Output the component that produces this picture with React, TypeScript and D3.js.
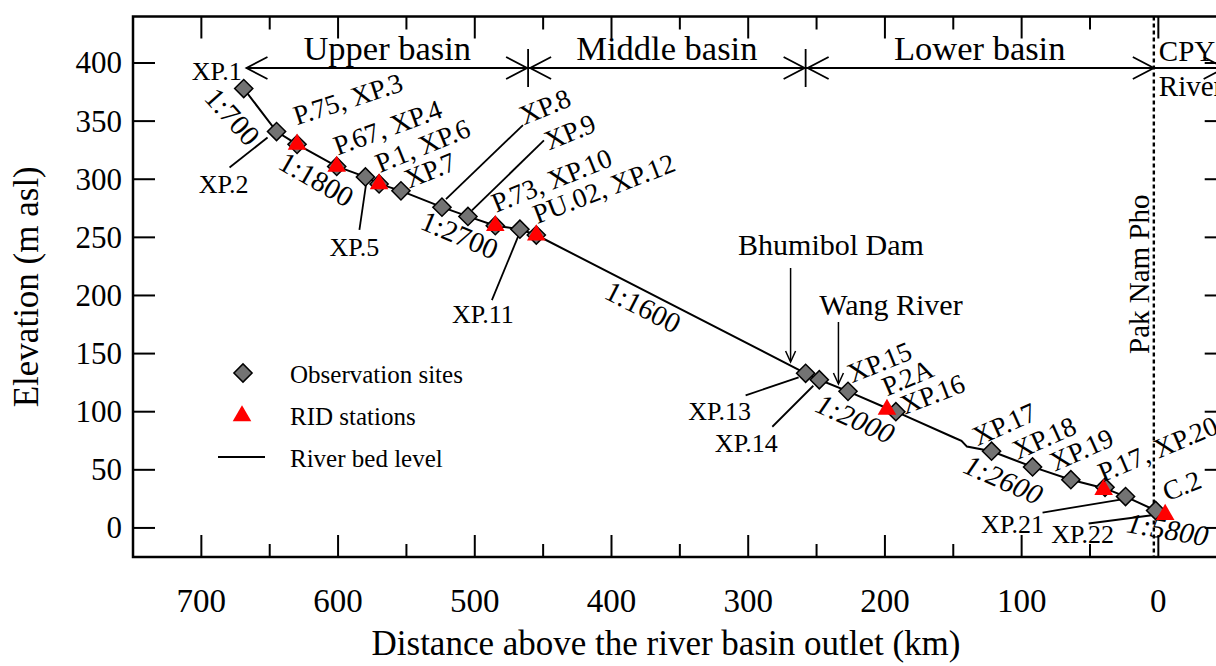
import React from 'react';
import * as d3 from 'd3';

// ---------- data ----------
const xMajorTicks = [700, 600, 500, 400, 300, 200, 100, 0];
const xMinorTicks = [650, 550, 450, 350, 250, 150, 50];
const yTicks = [0, 50, 100, 150, 200, 250, 300, 350, 400];

const obsNames = ['XP.1', 'XP.2', 'XP.3', 'XP.4', 'XP.5', 'XP.6', 'XP.7', 'XP.8', 'XP.9', 'XP.10', 'XP.11', 'XP.12',
  'XP.13', 'XP.14', 'XP.15', 'XP.16', 'XP.17', 'XP.18', 'XP.19', 'XP.20', 'XP.21', 'XP.22'];
const obsDist = [669, 645, 630, 601, 580, 570, 554, 524, 505, 485, 467, 455, 258, 248, 227, 192, 122, 92, 64, 39, 24, 2];
const obsElev = [378, 341, 330, 311, 302, 296, 290, 276, 268, 260, 257, 252, 133, 127.5, 117.5, 100, 66, 52.5, 41.5, 35, 27, 15];

const ridNames = ['P.75', 'P.67', 'P.1', 'P.73', 'PU.02', 'P.2A', 'P.17', 'C.2'];
const ridDist = [630, 601, 570, 485, 455, 198.5, 40, -5];
const ridElev = [330, 311, 296, 260, 252, 102, 33, 11.5];

const bedDist = [669, 645, 630, 601, 580, 570, 554, 524, 505, 485, 467, 455, 258, 248, 227, 198.5, 192, 150, 144, 140, 122, 92, 64, 39, 24, 2, -5];
const bedElev = [378, 341, 330, 311, 302, 296, 290, 276, 268, 260, 257, 252, 133, 127.5, 117.5, 103, 100, 78, 75, 70, 66, 52.5, 41.5, 34, 27, 15, 11];

const basinNames = ['Upper basin', 'Middle basin', 'Lower basin'];
const basinFrom = [667, 461, 258];
const basinTo = [461, 258, 3.3];
const outletDist = 3.3;

const slopeTexts = ['1:700', '1:1800', '1:2700', '1:1600', '1:2000', '1:2600', '1:5800'];
const slopeDist = [679, 617, 512, 378, 222.6, 114.3, -6.4];
const slopeElev = [352, 297.6, 249.5, 187.6, 91.4, 39, -4];

// ---------- layout ----------
const W = 1216, H = 666;
const x = d3.scaleLinear().domain([750, -50]).range([133, 1226.7]);
const y = d3.scaleLinear().domain([-25, 440]).range([557, 16.5]);
const FONT = "'Liberation Serif', 'Times New Roman', serif";

const slopeRot = [48, 30, 23, 27, 24, 24, 10];
const slopeItalic = [false, false, false, false, true, true, true];

type Lab = { t: string; px: number; py: number; dx: number; dy: number; rot: number; anchor: string; leader?: number[] };

function obsP(i: number) { return [x(obsDist[i]), y(obsElev[i])]; }

export default function App() {
  const line = d3.line<number>().x((_, i) => x(bedDist[i])).y((_, i) => y(bedElev[i]));
  const bedPath = line(bedDist as any) || '';
  const sq = d3.symbol().type(d3.symbolSquare).size(165)() || '';
  const tri = d3.symbol().type(d3.symbolTriangle).size(150)() || '';

  const stationLabel = (i: number, text: string, dx: number, dy: number, rot: number, anchor = 'start', leader?: number[]): Lab => {
    const [px, py] = obsP(i);
    return { t: text, px, py, dx, dy, rot, anchor, leader };
  };

  const labels: Lab[] = [
    stationLabel(0, 'XP.1', -27, -9, 0, 'middle'),
    stationLabel(1, 'XP.2', -53, 61, 0, 'middle', [-9, 6, -47, 36]),
    stationLabel(2, 'P.75, XP.3', 0, -19, -18),
    stationLabel(3, 'P.67, XP.4', 1, -11, -20),
    stationLabel(4, 'XP.5', -11, 79, 0, 'middle', [1, 5, -6, 53]),
    stationLabel(5, 'P.1, XP.6', 1, -11, -22),
    stationLabel(6, 'XP.7', 8, -2, -22),
    stationLabel(7, 'XP.8', 82, -82, -22, 'start', [4, -8, 81, -82]),
    stationLabel(8, 'XP.9', 81, -66, -22, 'start', [4, -6, 76, -76]),
    stationLabel(9, 'P.73, XP.10', 1, -13, -22),
    stationLabel(10, 'XP.11', -37, 94, 0, 'middle', [0, 3, -28, 71]),
    stationLabel(11, 'PU.02, XP.12', 1, -11, -21),
    stationLabel(12, 'XP.13', -86, 47, 0, 'middle', [-7, 4, -60, 22]),
    stationLabel(13, 'XP.14', -73, 72, 0, 'middle', [-6, 6, -47, 47]),
    stationLabel(14, 'XP.15', 4, -8, -22),
    stationLabel(15, 'XP.16', 9, 3, -21),
    stationLabel(16, 'XP.17', -14, -5, -24),
    stationLabel(17, 'XP.18', -15, -7, -24),
    stationLabel(18, 'XP.19', -16, -8, -24),
    stationLabel(19, 'P.17, XP.20', -2, -5, -23),
    stationLabel(20, 'XP.21', -113, 36, 0, 'middle', [-5, 3, -83, 16]),
    stationLabel(21, 'XP.22', -73, 32, 0, 'middle', [2, 4, -67, 13]),
  ];
  const p2a = { px: x(ridDist[5]), py: y(ridElev[5]) };
  const c2 = { px: x(ridDist[7]), py: y(ridElev[7]) };

  const frameL = x(750), frameR = x(-50), frameT = y(440), frameB = y(-25);
  const arrowY = 68;
  const head = (tipX: number, dir: number, yy: number, len = 21, hw = 11) =>
    `M${tipX + dir * len},${yy - hw}L${tipX},${yy}L${tipX + dir * len},${yy + hw}`;

  const bhX = x(269), wangX = x(234);

  return (
    <div style={{ position: 'fixed', left: 0, top: 0, width: W, height: H, background: '#fff' }}>
      <svg width={W} height={H} viewBox={`0 0 ${W} ${H}`} style={{ display: 'block' }} fontFamily={FONT}>
        <rect x={0} y={0} width={W} height={H} fill="#fff" />
        <rect x={frameL} y={frameT} width={frameR - frameL} height={frameB - frameT} fill="none" stroke="#000" strokeWidth={2.5} />
        {xMajorTicks.map(v => (
          <g key={'xm' + v}>
            <line x1={x(v)} x2={x(v)} y1={frameB} y2={frameB - 22} stroke="#000" strokeWidth={2} />
            <line x1={x(v)} x2={x(v)} y1={frameT} y2={frameT + 22} stroke="#000" strokeWidth={2} />
            <text x={x(v)} y={612} textAnchor="middle" fontSize={33}>{v}</text>
          </g>
        ))}
        {xMinorTicks.map(v => (
          <g key={'xn' + v}>
            <line x1={x(v)} x2={x(v)} y1={frameB} y2={frameB - 13} stroke="#000" strokeWidth={2} />
            <line x1={x(v)} x2={x(v)} y1={frameT} y2={frameT + 13} stroke="#000" strokeWidth={2} />
          </g>
        ))}
        {yTicks.map(v => (
          <g key={'y' + v}>
            <line x1={frameL} x2={frameL + 22} y1={y(v)} y2={y(v)} stroke="#000" strokeWidth={2} />
            <line x1={frameR} x2={frameR - 22} y1={y(v)} y2={y(v)} stroke="#000" strokeWidth={2} />
            <text x={122} y={y(v) + 10.5} textAnchor="end" fontSize={31}>{v}</text>
          </g>
        ))}
        <text x={666} y={655} textAnchor="middle" fontSize={35}>Distance above the river basin outlet (km)</text>
        <text transform={`translate(38,${(frameT + frameB) / 2}) rotate(-90)`} textAnchor="middle" fontSize={35}>Elevation (m asl)</text>

        <line x1={x(outletDist)} x2={x(outletDist)} y1={frameT} y2={frameB} stroke="#000" strokeWidth={2.4} strokeDasharray="4,3" />
        <text transform={`translate(${x(outletDist) - 5},354) rotate(-90)`} fontSize={29}>Pak Nam Pho</text>

        <line x1={x(basinFrom[0])} x2={frameR} y1={arrowY} y2={arrowY} stroke="#000" strokeWidth={1.8} />
        {basinNames.map((n, i) => {
          const a = x(basinFrom[i]), b = x(basinTo[i]);
          return (
            <g key={n}>
              <path d={head(a + (i > 0 ? 2 : 0), 1, arrowY)} fill="none" stroke="#000" strokeWidth={1.8} />
              <path d={head(b - (i < 2 ? 1 : 0), -1, arrowY)} fill="none" stroke="#000" strokeWidth={1.8} />
              {i < 2 && <line x1={b} x2={b} y1={49} y2={87} stroke="#000" strokeWidth={1.8} />}
              <text x={(a + b) / 2} y={60} textAnchor="middle" fontSize={34.5}>{n}</text>
            </g>
          );
        })}
        <path d={head(x(-48.5), -1, arrowY)} fill="none" stroke="#000" strokeWidth={1.8} />
        <text x={x(outletDist) + 5} y={61} fontSize={29}>CPY</text>
        <text x={x(outletDist) + 5} y={96} fontSize={29}>River</text>

        <text x={831} y={255} textAnchor="middle" fontSize={30}>Bhumibol Dam</text>
        <line x1={bhX} x2={bhX} y1={268} y2={361} stroke="#000" strokeWidth={1.5} />
        <path d={`M${bhX - 5},351L${bhX},362L${bhX + 5},351`} fill="none" stroke="#000" strokeWidth={1.5} />
        <text x={891} y={315} textAnchor="middle" fontSize={30}>Wang River</text>
        <line x1={wangX} x2={wangX} y1={322} y2={383} stroke="#000" strokeWidth={1.5} />
        <path d={`M${wangX - 5},373L${wangX},384L${wangX + 5},373`} fill="none" stroke="#000" strokeWidth={1.5} />

        <path d={bedPath} fill="none" stroke="#000" strokeWidth={2} />

        {slopeTexts.map((s, i) => (
          <text key={s} transform={`translate(${x(slopeDist[i])},${y(slopeElev[i])}) rotate(${slopeRot[i]})`}
            textAnchor="middle" dominantBaseline="middle" fontSize={29} fontStyle={slopeItalic[i] ? 'italic' : 'normal'}>{s}</text>
        ))}

        {labels.filter(l => l.leader).map(l => (
          <line key={'ld' + l.t} x1={l.px + l.leader![0]} y1={l.py + l.leader![1]} x2={l.px + l.leader![2]} y2={l.py + l.leader![3]} stroke="#000" strokeWidth={1.8} />
        ))}

        {obsDist.map((d, i) => (
          <path key={obsNames[i]} d={sq} transform={`translate(${x(d)},${y(obsElev[i])}) rotate(45)`} fill="#737373" stroke="#000" strokeWidth={1.5} />
        ))}
        {ridDist.map((d, i) => (
          <path key={ridNames[i]} d={tri} transform={`translate(${x(d)},${y(ridElev[i])})`} fill="#ff0000" />
        ))}

        {labels.map(l => (
          <text key={'lb' + l.t} transform={`translate(${l.px + l.dx},${l.py + l.dy}) rotate(${l.rot})`} textAnchor={l.anchor} fontSize={l.rot === 0 ? 26 : 27.5}>{l.t}</text>
        ))}
        <text transform={`translate(${p2a.px},${p2a.py - 13}) rotate(-23)`} fontSize={27.5}>P.2A</text>
        <text transform={`translate(${c2.px + 2},${c2.py - 13}) rotate(-22)`} fontSize={27.5}>C.2</text>

        <path d={sq} transform="translate(243,373) rotate(45)" fill="#737373" stroke="#000" strokeWidth={1.5} />
        <text x={290} y={383} fontSize={25}>Observation sites</text>
        <path d={tri} transform="translate(242,416)" fill="#ff0000" />
        <text x={290} y={425} fontSize={25}>RID stations</text>
        <line x1={218} x2={265} y1={457} y2={457} stroke="#000" strokeWidth={2} />
        <text x={290} y={467} fontSize={25}>River bed level</text>
      </svg>
    </div>
  );
}
